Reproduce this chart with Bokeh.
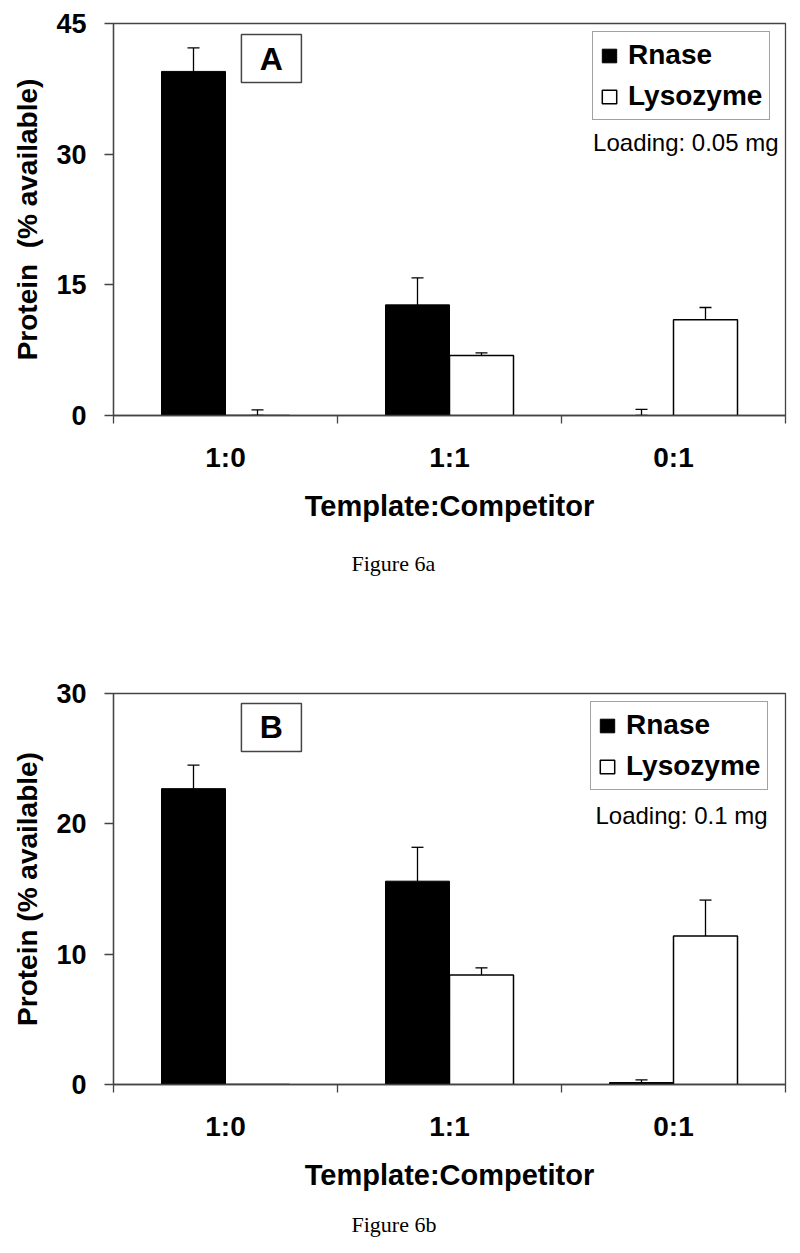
from bokeh.plotting import figure
from bokeh.models import (Range1d, FixedTicker, LinearAxis, Whisker, ColumnDataSource,
                          Label, Legend, LegendItem, TeeHead, Title)
from bokeh.layouts import column
from bokeh.embed import file_html
from bokeh.resources import INLINE

# ---------------- data ----------------
categories = ["1:0", "1:1", "0:1"]
series = ["Rnase", "Lysozyme"]

a_rnase = [39.5, 12.7, 0.0]
a_rnase_err = [2.7, 3.1, 0.7]
a_lyso = [0.0, 6.9, 11.0]
a_lyso_err = [0.65, 0.3, 1.4]
a_yticks = [0, 15, 30, 45]

b_rnase = [22.7, 15.6, 0.15]
b_rnase_err = [1.8, 2.6, 0.2]
b_lyso = [0.0, 8.4, 11.4]
b_lyso_err = [0.0, 0.55, 2.75]
b_yticks = [0, 10, 20, 30]

SANS = "Liberation Sans"
SERIF = "Liberation Serif"
FRAME = "#444444"


def make_panel(rnase, rnase_err, lyso, lyso_err, yticks, letter, loading, caption,
               ylabel, height, top, bottom, letter_y, loading_x, loading_y,
               legend_xy, caption_standoff):
    ymax = yticks[-1]
    p = figure(width=800, height=height, x_range=Range1d(0, len(categories)),
               y_range=Range1d(0, ymax), x_axis_type=None, y_axis_type=None,
               output_backend="svg", toolbar_location=None,
               min_border_left=113, min_border_right=15,
               min_border_top=top, min_border_bottom=bottom)
    p.outline_line_color = FRAME
    p.outline_line_width = 1.3
    p.background_fill_color = "white"
    p.border_fill_color = "white"

    w = 2 / 7
    centers = [i + 0.5 for i in range(len(categories))]
    xr = [c - w / 2 for c in centers]
    xl = [c + w / 2 for c in centers]

    r1 = p.vbar(x=xr, top=rnase, width=w, bottom=0, fill_color="black", line_color="black")
    r2 = p.vbar(x=xl, top=lyso, width=w, bottom=0, fill_color="white",
                line_color="black", line_width=1.5)

    for xs, vals, errs in ((xr, rnase, rnase_err), (xl, lyso, lyso_err)):
        keep = [i for i, e in enumerate(errs) if e > 0]
        src = ColumnDataSource(dict(
            x=[xs[i] for i in keep],
            upper=[vals[i] + errs[i] for i in keep],
            lower=[max(vals[i] - errs[i], 0) for i in keep]))
        wk = Whisker(base="x", upper="upper", lower="lower", source=src,
                     line_color="black", line_width=1.3,
                     upper_head=TeeHead(size=12, line_color="black", line_width=1.3),
                     lower_head=TeeHead(size=12, line_color="black", line_width=1.3))
        p.add_layout(wk)

    # y axis
    yax = LinearAxis(ticker=FixedTicker(ticks=yticks), axis_label=ylabel,
                     axis_line_color=FRAME, axis_line_width=1.3,
                     major_tick_line_color=FRAME, major_tick_line_width=1.3,
                     major_tick_out=9, major_tick_in=0, minor_tick_line_color=None,
                     major_label_text_font=SANS, major_label_text_font_style="bold",
                     major_label_text_font_size="27px", major_label_text_color="black",
                     major_label_standoff=18,
                     axis_label_text_font=SANS, axis_label_text_font_style="bold",
                     axis_label_text_font_size="28px", axis_label_text_color="black",
                     axis_label_standoff=10)
    p.add_layout(yax, "left")

    # x axis: tick marks at category boundaries
    xticks = [i for i in range(len(categories) + 1)]
    xax1 = LinearAxis(ticker=FixedTicker(ticks=xticks),
                      major_label_overrides={t: "" for t in xticks},
                      major_label_text_font_size="1px", major_label_standoff=0,
                      axis_line_color=FRAME, axis_line_width=1.3,
                      major_tick_line_color=FRAME, major_tick_line_width=1.3,
                      major_tick_out=8, major_tick_in=0, minor_tick_line_color=None)
    p.add_layout(xax1, "below")
    # x axis: category labels at centers
    xax2 = LinearAxis(ticker=FixedTicker(ticks=centers),
                      major_label_overrides={c: cat for c, cat in zip(centers, categories)},
                      axis_line_color=None, major_tick_line_color=None,
                      minor_tick_line_color=None, major_tick_out=0, major_tick_in=0,
                      major_label_text_font=SANS, major_label_text_font_style="bold",
                      major_label_text_font_size="28px", major_label_text_color="black",
                      major_label_standoff=18,
                      axis_label="Template:Competitor",
                      axis_label_text_font=SANS, axis_label_text_font_style="bold",
                      axis_label_text_font_size="29px", axis_label_text_color="black",
                      axis_label_standoff=14)
    p.add_layout(xax2, "below")

    p.add_layout(Title(text=caption, align="left", offset=238, standoff=caption_standoff,
                       text_font=SERIF, text_font_style="normal",
                       text_font_size="22px", text_color="black"), "below")

    p.xgrid.grid_line_color = None
    p.ygrid.grid_line_color = None

    legend = Legend(items=[LegendItem(label=series[0], renderers=[r1]),
                           LegendItem(label=series[1], renderers=[r2])],
                    location=legend_xy,
                    glyph_width=18, glyph_height=17, label_standoff=10,
                    label_height=30, spacing=9, padding=7, margin=0,
                    label_text_font=SANS, label_text_font_style="bold",
                    label_text_font_size="28px", label_text_color="black",
                    border_line_color=FRAME, border_line_width=1.2,
                    background_fill_color="white", background_fill_alpha=1)
    p.add_layout(legend)

    # letter box
    p.rect(x=[0.705], y=[letter_y], width=60, height=48, width_units="screen",
           height_units="screen", fill_color="white", line_color=FRAME, line_width=1.5)
    p.add_layout(Label(x=0.705, y=letter_y, text=letter, text_align="center",
                       text_baseline="middle", text_font=SANS, text_font_style="bold",
                       text_font_size="32px", text_color="black"))

    p.add_layout(Label(x=loading_x, y=loading_y, text=loading, text_align="right",
                       text_baseline="middle", text_font=SANS, text_font_size="24px",
                       text_color="black"))
    return p


pA = make_panel(a_rnase, a_rnase_err, a_lyso, a_lyso_err, a_yticks, "A",
                "Loading: 0.05 mg", "Figure 6a", "Protein\u00a0\u00a0(% available)",
                height=660, top=23, bottom=245, letter_y=40.98,
                loading_x=2.969, loading_y=31.37, legend_xy=(479, 295),
                caption_standoff=48)
pB = make_panel(b_rnase, b_rnase_err, b_lyso, b_lyso_err, b_yticks, "B",
                "Loading: 0.1 mg", "Figure 6b", "Protein (% available)",
                height=593, top=33, bottom=169, letter_y=27.4,
                loading_x=2.92, loading_y=20.64, legend_xy=(477, 294),
                caption_standoff=33)

layout = column(pA, pB, spacing=0)
open("out.html", "w").write(file_html(layout, INLINE))
